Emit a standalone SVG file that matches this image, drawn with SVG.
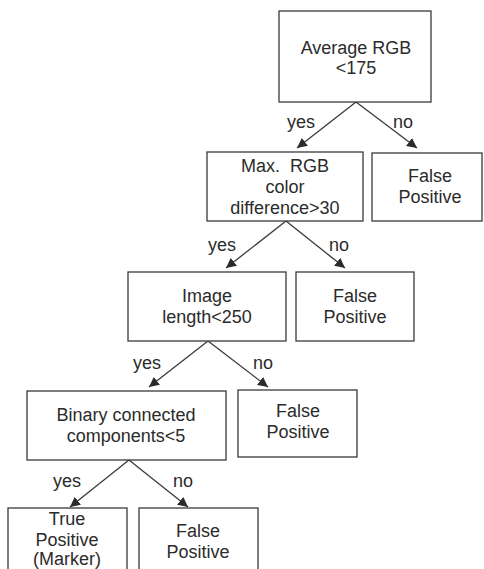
<svg xmlns="http://www.w3.org/2000/svg" width="484" height="569" viewBox="0 0 484 569">
<defs>
<marker id="ah" viewBox="0 0 10 10" refX="10" refY="5" markerWidth="10" markerHeight="10" markerUnits="userSpaceOnUse" orient="auto">
<path d="M0,0 L10,5 L0,10 z" fill="#2b2b2b"/>
</marker>
<style>
.box{fill:#ffffff;stroke:#3a3a3a;stroke-width:1.3}
.t{font-family:"Liberation Sans",Arial,sans-serif;font-size:18px;fill:#2b2b2b;text-anchor:middle}
.l{font-family:"Liberation Sans",Arial,sans-serif;font-size:18px;fill:#2b2b2b}
.c{stroke:#3a3a3a;stroke-width:1.3;fill:none;marker-end:url(#ah)}
</style>
</defs>
<rect width="484" height="569" fill="#ffffff"/>
<g id="connectors">
<line class="c" x1="356" y1="102" x2="297" y2="148"/>
<line class="c" x1="356" y1="102" x2="417" y2="148"/>
<line class="c" x1="286" y1="221" x2="226" y2="268"/>
<line class="c" x1="286" y1="221" x2="345" y2="268"/>
<line class="c" x1="208" y1="341" x2="149" y2="387"/>
<line class="c" x1="208" y1="341" x2="268" y2="387"/>
<line class="c" x1="129" y1="460" x2="70" y2="507"/>
<line class="c" x1="129" y1="460" x2="188" y2="507"/>
<text class="l" x="287" y="128">yes</text>
<text class="l" x="393" y="128">no</text>
<text class="l" x="208" y="251">yes</text>
<text class="l" x="329" y="251">no</text>
<text class="l" x="133" y="369">yes</text>
<text class="l" x="253" y="369">no</text>
<text class="l" x="53" y="487">yes</text>
<text class="l" x="173" y="487">no</text>
</g>
<g id="n1">
<rect class="box" x="279" y="11" width="152" height="91"/>
<text class="t" x="356" y="54">Average RGB</text>
<text class="t" x="356" y="74">&lt;175</text>
</g>
<g id="n2">
<rect class="box" x="207" y="152" width="156" height="69"/>
<text class="t" x="285" y="172" xml:space="preserve">Max.  RGB</text>
<text class="t" x="285" y="193">color</text>
<text class="t" x="285" y="214">difference&gt;30</text>
</g>
<g id="n3">
<rect class="box" x="372" y="153" width="110" height="68"/>
<text class="t" x="430" y="182">False</text>
<text class="t" x="430" y="203">Positive</text>
</g>
<g id="n4">
<rect class="box" x="128" y="272" width="158" height="69"/>
<text class="t" x="207" y="302">Image</text>
<text class="t" x="207" y="323">length&lt;250</text>
</g>
<g id="n5">
<rect class="box" x="296" y="272" width="118" height="69"/>
<text class="t" x="355" y="302">False</text>
<text class="t" x="355" y="323">Positive</text>
</g>
<g id="n6">
<rect class="box" x="27" y="391" width="199" height="69"/>
<text class="t" x="126" y="421">Binary connected</text>
<text class="t" x="126" y="442">components&lt;5</text>
</g>
<g id="n7">
<rect class="box" x="238" y="390" width="119" height="67"/>
<text class="t" x="298" y="417">False</text>
<text class="t" x="298" y="438">Positive</text>
</g>
<g id="n8">
<rect class="box" x="8" y="508" width="119" height="70"/>
<text class="t" x="67" y="525">True</text>
<text class="t" x="67" y="546">Positive</text>
<text class="t" x="67" y="565">(Marker)</text>
</g>
<g id="n9">
<rect class="box" x="139" y="508" width="119" height="70"/>
<text class="t" x="198" y="537">False</text>
<text class="t" x="198" y="558">Positive</text>
</g>
</svg>
